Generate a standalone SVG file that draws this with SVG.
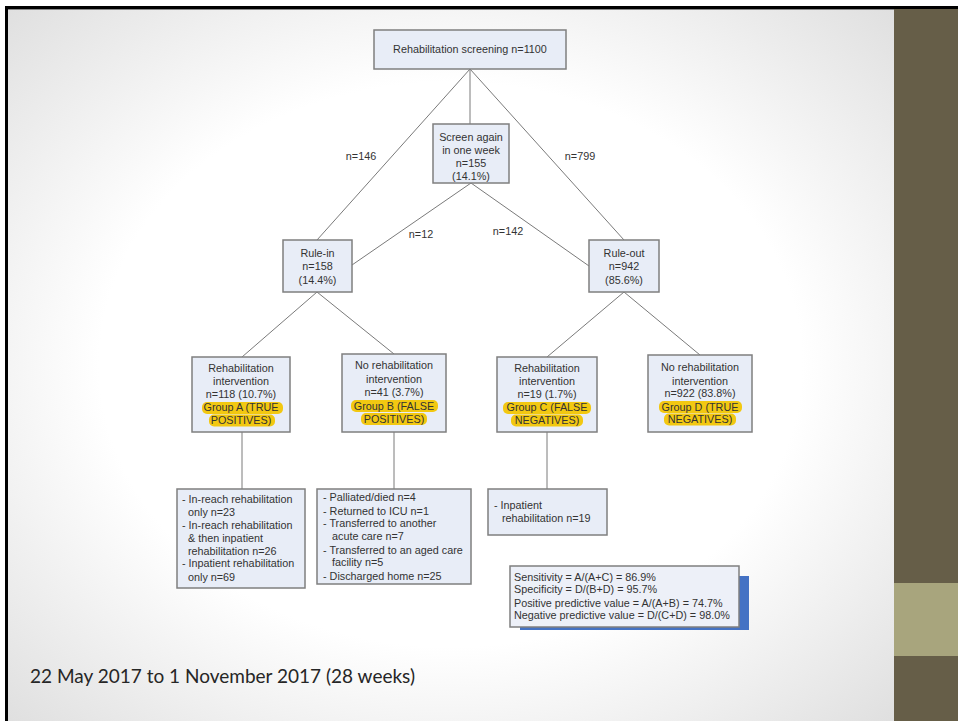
<svg xmlns="http://www.w3.org/2000/svg" width="958" height="721" viewBox="0 0 958 721">
<defs>
<radialGradient id="bg" cx="0.5" cy="0.5" r="0.72">
<stop offset="0.55" stop-color="#ffffff"/>
<stop offset="1" stop-color="#dedede"/>
</radialGradient>
<style>
.box{fill:#e8edf7;stroke:#7f7f7f;stroke-width:1.5}
.t{font-family:"Liberation Sans",Arial,sans-serif;font-size:10.8px;fill:#333333}
.c{text-anchor:middle}
.hl{fill:#f2c811}
.conn line{stroke:#7a7a7a;stroke-width:1}
</style>
</defs>
<rect x="0" y="0" width="958" height="721" fill="#ffffff"/>
<rect x="7" y="8" width="887" height="713" fill="url(#bg)"/>
<rect x="894" y="7" width="64" height="714" fill="#665e48"/>
<rect x="894" y="583" width="64" height="73" fill="#a8a57d"/>
<rect x="5" y="6" width="953" height="3" fill="#000000"/>
<rect x="5" y="6" width="3" height="715" fill="#000000"/>
<line x1="8" y1="9.5" x2="894" y2="9.5" stroke="#888" stroke-width="1"/>

<g class="conn" id="connectors">
<line x1="470" y1="69" x2="470" y2="124"/>
<line x1="470" y1="69" x2="317" y2="240"/>
<line x1="470" y1="69" x2="624" y2="240"/>
<line x1="471" y1="183" x2="352" y2="265"/>
<line x1="471" y1="183" x2="589" y2="266"/>
<line x1="317" y1="292" x2="242" y2="357"/>
<line x1="317" y1="292" x2="394" y2="354"/>
<line x1="624" y1="292" x2="547" y2="357"/>
<line x1="624" y1="292" x2="700" y2="355"/>
<line x1="242" y1="432" x2="242" y2="489"/>
<line x1="394" y1="432" x2="394" y2="489"/>
<line x1="547" y1="432" x2="547" y2="489"/>
</g>
<g id="edge-labels" class="t c">
<text x="361" y="160">n=146</text>
<text x="580" y="160">n=799</text>
<text x="421" y="238">n=12</text>
<text x="508" y="235">n=142</text>
</g>

<g id="screening">
<rect class="box" x="374" y="30" width="192" height="39"/>
<text class="t c" x="470" y="53">Rehabilitation screening n=1100</text>
</g>
<g id="screen-again">
<rect class="box" x="433" y="124" width="76" height="59"/>
<text class="t c" x="471" y="141">Screen again</text>
<text class="t c" x="471" y="154">in one week</text>
<text class="t c" x="471" y="167">n=155</text>
<text class="t c" x="471" y="180">(14.1%)</text>
</g>
<g id="rule-in">
<rect class="box" x="283" y="240" width="69" height="52"/>
<text class="t c" x="317.5" y="257">Rule-in</text>
<text class="t c" x="317.5" y="270">n=158</text>
<text class="t c" x="317.5" y="284">(14.4%)</text>
</g>
<g id="rule-out">
<rect class="box" x="589" y="240" width="70" height="52"/>
<text class="t c" x="624" y="257">Rule-out</text>
<text class="t c" x="624" y="270">n=942</text>
<text class="t c" x="624" y="284">(85.6%)</text>
</g>

<g id="group-a">
<rect class="box" x="192" y="357" width="98" height="75"/>
<rect class="hl" x="202" y="402" width="81" height="12" rx="5"/>
<rect class="hl" x="209" y="414.5" width="66" height="12" rx="5"/>
<text class="t c" x="241" y="372">Rehabilitation</text>
<text class="t c" x="241" y="385">intervention</text>
<text class="t c" x="241" y="398">n=118 (10.7%)</text>
<text class="t c" x="241" y="411">Group A (TRUE</text>
<text class="t c" x="241" y="424">POSITIVES)</text>
</g>
<g id="group-b">
<rect class="box" x="342" y="354" width="104" height="78"/>
<rect class="hl" x="351" y="400" width="87" height="12" rx="5"/>
<rect class="hl" x="361" y="413" width="66" height="12" rx="5"/>
<text class="t c" x="394" y="369">No rehabilitation</text>
<text class="t c" x="394" y="383">intervention</text>
<text class="t c" x="394" y="396">n=41 (3.7%)</text>
<text class="t c" x="394" y="410">Group B (FALSE</text>
<text class="t c" x="394" y="423">POSITIVES)</text>
</g>
<g id="group-c">
<rect class="box" x="497" y="357" width="100" height="75"/>
<rect class="hl" x="503" y="402" width="88" height="12" rx="5"/>
<rect class="hl" x="511" y="414.5" width="72" height="12" rx="5"/>
<text class="t c" x="547" y="372">Rehabilitation</text>
<text class="t c" x="547" y="385">intervention</text>
<text class="t c" x="547" y="398">n=19 (1.7%)</text>
<text class="t c" x="547" y="411">Group C (FALSE</text>
<text class="t c" x="547" y="424">NEGATIVES)</text>
</g>
<g id="group-d">
<rect class="box" x="648" y="355" width="104" height="77"/>
<rect class="hl" x="659" y="401" width="83" height="12" rx="5"/>
<rect class="hl" x="664" y="413.5" width="72" height="12" rx="5"/>
<text class="t c" x="700" y="371">No rehabilitation</text>
<text class="t c" x="700" y="385">intervention</text>
<text class="t c" x="700" y="397">n=922 (83.8%)</text>
<text class="t c" x="700" y="411">Group D (TRUE</text>
<text class="t c" x="700" y="423">NEGATIVES)</text>
</g>

<g id="outcomes-a">
<rect class="box" x="177" y="489" width="128" height="99"/>
<text class="t" x="182" y="503">- In-reach rehabilitation</text>
<text class="t" x="188" y="516">only n=23</text>
<text class="t" x="182" y="529">- In-reach rehabilitation</text>
<text class="t" x="188" y="542">&amp; then inpatient</text>
<text class="t" x="188" y="555">rehabilitation n=26</text>
<text class="t" x="182" y="567">- Inpatient rehabilitation</text>
<text class="t" x="188" y="581">only n=69</text>
</g>
<g id="outcomes-b">
<rect class="box" x="317" y="489" width="154" height="95"/>
<text class="t" x="323" y="501">- Palliated/died n=4</text>
<text class="t" x="323" y="515">- Returned to ICU n=1</text>
<text class="t" x="323" y="527">- Transferred to another</text>
<text class="t" x="332" y="540">acute  care n=7</text>
<text class="t" x="323" y="554">- Transferred to an aged care</text>
<text class="t" x="332" y="566">facility n=5</text>
<text class="t" x="323" y="580">- Discharged home n=25</text>
</g>
<g id="outcomes-c">
<rect class="box" x="488" y="489" width="119" height="46"/>
<text class="t" x="494" y="509">- Inpatient</text>
<text class="t" x="502" y="522">rehabilitation n=19</text>
</g>

<g id="stats">
<rect x="520" y="576" width="229" height="54" fill="#4472c4"/>
<rect x="510" y="566" width="229" height="61" fill="#edf0f8" stroke="#7f7f7f" stroke-width="1.5"/>
<text class="t" x="514" y="581">Sensitivity = A/(A+C) = 86.9%</text>
<text class="t" x="514" y="593">Specificity = D/(B+D) = 95.7%</text>
<text class="t" x="514" y="607">Positive predictive value = A/(A+B) = 74.7%</text>
<text class="t" x="514" y="619">Negative predictive value = D/(C+D) = 98.0%</text>
</g>

<text x="30" y="683" font-family="Lato,'Noto Sans',sans-serif" font-size="19" fill="#262626" textLength="385" lengthAdjust="spacing">22 May 2017 to 1 November 2017 (28 weeks)</text>
</svg>
